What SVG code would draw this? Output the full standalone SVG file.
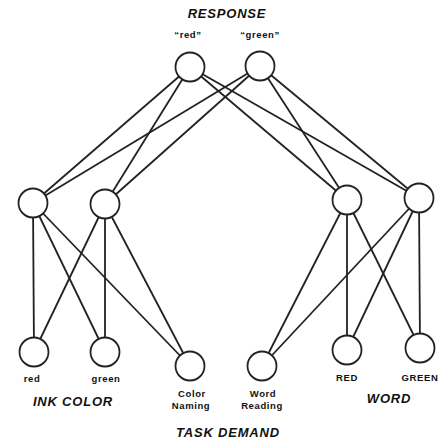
<svg xmlns="http://www.w3.org/2000/svg" width="447" height="445" viewBox="0 0 447 445">
<style>
.e{stroke:#222;stroke-width:1.8;fill:none}
.n{fill:#fff;stroke:#222;stroke-width:1.8}
.s{font-family:"Liberation Sans",Arial,sans-serif;font-weight:bold;font-size:9.5px;letter-spacing:0.6px;fill:#111;text-anchor:middle}
.b{font-family:"Liberation Sans",Arial,sans-serif;font-weight:bold;font-style:italic;font-size:13px;letter-spacing:0.8px;fill:#111;text-anchor:middle}
</style>
<rect width="447" height="445" fill="#fff"/>
<g id="connectors">
<line class="e" x1="190" y1="67" x2="33" y2="203"/>
<line class="e" x1="190" y1="67" x2="105" y2="204"/>
<line class="e" x1="190" y1="67" x2="347" y2="200"/>
<line class="e" x1="190" y1="67" x2="419" y2="198"/>
<line class="e" x1="260" y1="66" x2="33" y2="203"/>
<line class="e" x1="260" y1="66" x2="105" y2="204"/>
<line class="e" x1="260" y1="66" x2="347" y2="200"/>
<line class="e" x1="260" y1="66" x2="419" y2="198"/>
<line class="e" x1="33" y1="203" x2="34" y2="352"/>
<line class="e" x1="33" y1="203" x2="105" y2="352"/>
<line class="e" x1="33" y1="203" x2="190" y2="366"/>
<line class="e" x1="105" y1="204" x2="34" y2="352"/>
<line class="e" x1="105" y1="204" x2="105" y2="352"/>
<line class="e" x1="105" y1="204" x2="190" y2="366"/>
<line class="e" x1="347" y1="200" x2="262" y2="366"/>
<line class="e" x1="347" y1="200" x2="347" y2="350"/>
<line class="e" x1="347" y1="200" x2="420" y2="348"/>
<line class="e" x1="419" y1="198" x2="262" y2="366"/>
<line class="e" x1="419" y1="198" x2="347" y2="350"/>
<line class="e" x1="419" y1="198" x2="420" y2="348"/>
</g>
<g id="resp-red"><circle class="n" cx="190" cy="67" r="14.5"/><text class="s" x="188" y="38">“red”</text></g>
<g id="resp-green"><circle class="n" cx="260" cy="66" r="14.5"/><text class="s" x="260" y="38">“green”</text></g>
<g id="hid-ink1"><circle class="n" cx="33" cy="203" r="14.5"/></g>
<g id="hid-ink2"><circle class="n" cx="105" cy="204" r="14.5"/></g>
<g id="hid-word1"><circle class="n" cx="347" cy="200" r="14.5"/></g>
<g id="hid-word2"><circle class="n" cx="419" cy="198" r="14.5"/></g>
<g id="in-red"><circle class="n" cx="34" cy="352" r="14.5"/><text class="s" x="32" y="382">red</text></g>
<g id="in-green"><circle class="n" cx="105" cy="352" r="14.5"/><text class="s" x="106" y="382">green</text></g>
<g id="task-color"><circle class="n" cx="190" cy="366" r="14.5"/><text class="s" x="192" y="397">Color</text><text class="s" x="191" y="409">Naming</text></g>
<g id="task-word"><circle class="n" cx="262" cy="366" r="14.5"/><text class="s" x="263" y="397">Word</text><text class="s" x="262" y="409">Reading</text></g>
<g id="in-RED"><circle class="n" cx="347" cy="350" r="14.5"/><text class="s" x="347" y="381">RED</text></g>
<g id="in-GREEN"><circle class="n" cx="420" cy="348" r="14.5"/><text class="s" x="420" y="381">GREEN</text></g>
<g id="labels">
<text class="b" x="227" y="18">RESPONSE</text>
<text class="b" x="73" y="406">INK COLOR</text>
<text class="b" x="389" y="403">WORD</text>
<text class="b" x="228" y="437">TASK DEMAND</text>
</g>
</svg>
